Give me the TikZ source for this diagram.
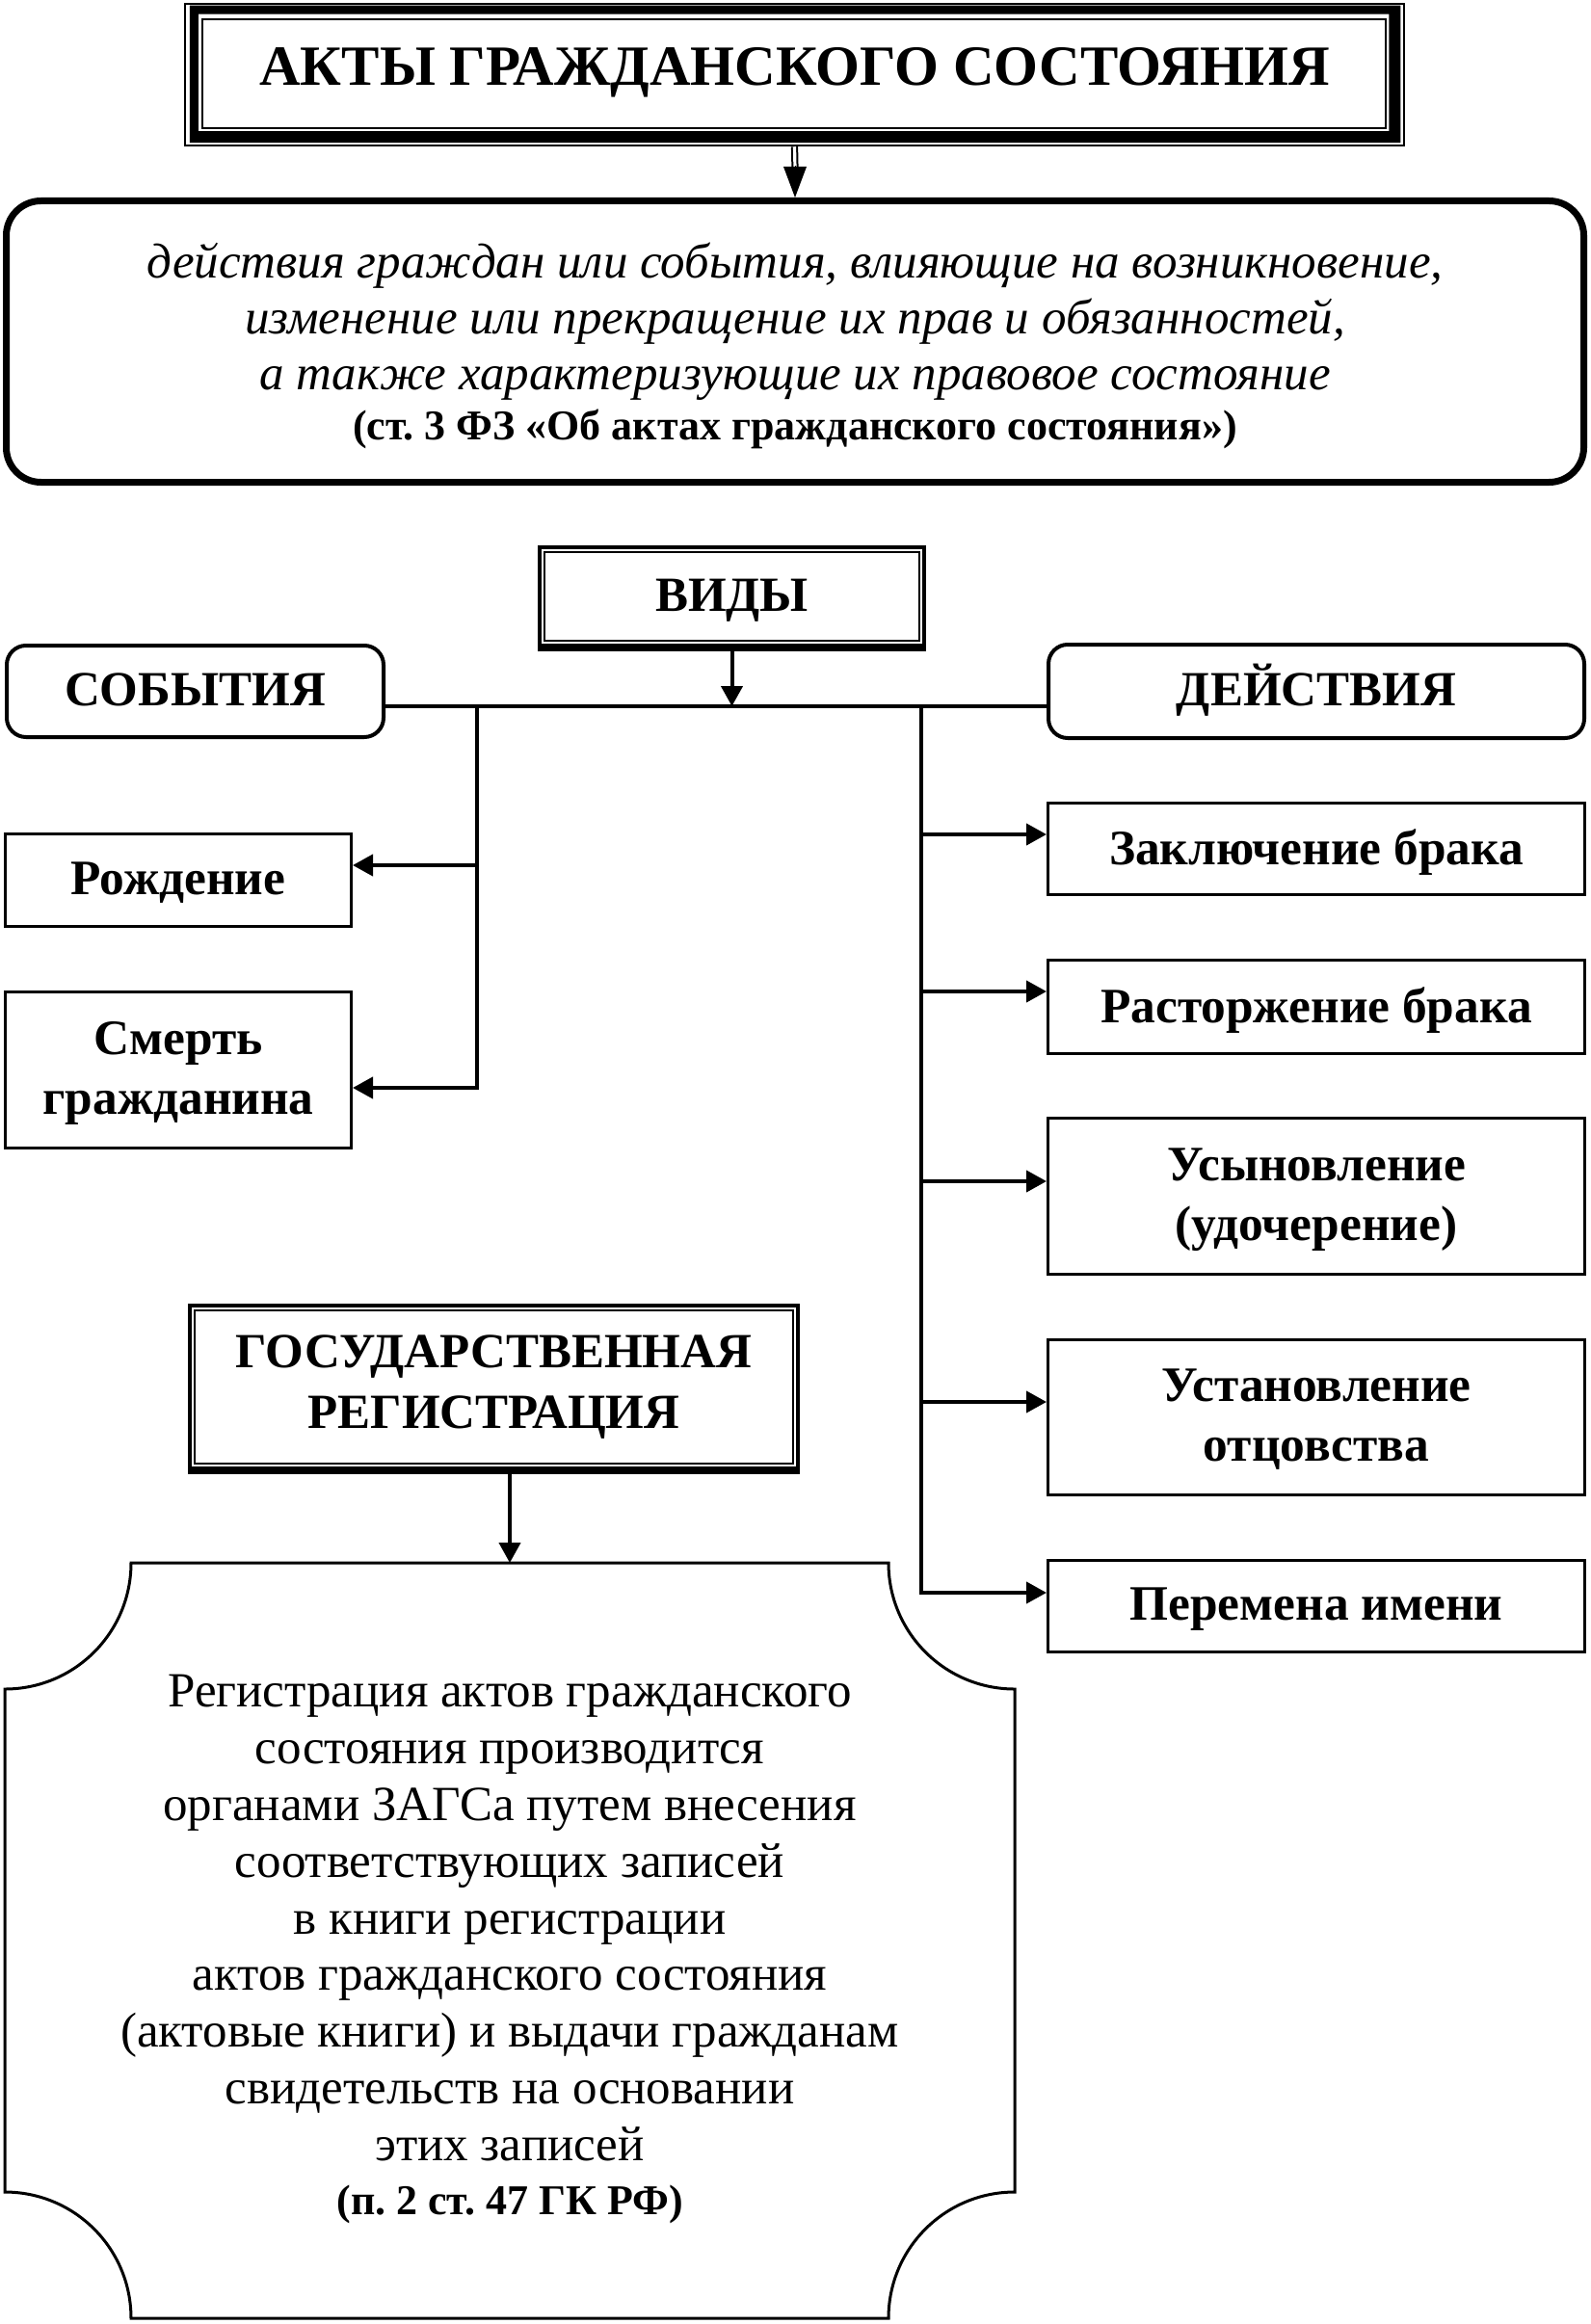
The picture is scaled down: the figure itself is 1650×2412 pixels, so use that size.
\documentclass[tikz,border=0pt]{standalone}
\usepackage{fontspec}
\setmainfont{Liberation Serif}
\usetikzlibrary{arrows.meta}
\begin{document}
\begin{tikzpicture}[x=0.5pt,y=-0.5pt,
  conn/.style={line width=2pt},
  arr/.style={line width=2pt,-{Triangle[length=10.5pt,width=11pt]}},
  headfont/.style={font=\bfseries\fontsize{25.5}{31.5}\selectfont},
  headbox/.style={draw, line width=2pt, inner sep=0pt, align=center, headfont, text height=17pt, text depth=2pt},
  itembox/.style={draw, line width=1.5pt, inner sep=0pt, align=center, text depth=2pt,
    font=\bfseries\fontsize{25.7}{31}\selectfont},
  innerframe/.style={line width=1pt},
]
\useasboundingbox (0,0) rectangle (1650,2412);

% title with triple frame
\node[draw, line width=1.25pt, minimum width=632.5pt, minimum height=73.5pt, inner sep=0pt,
  font=\bfseries\fontsize{29.5}{34}\selectfont, text height=19.5pt, text depth=8.5pt]
  (title) at (824.5,77.5) {АКТЫ ГРАЖДАНСКОГО СОСТОЯНИЯ};
\fill[even odd rule]
  ([shift={(3pt,-1.5pt)}]title.north west) rectangle ([shift={(-2.5pt,2pt)}]title.south east)
  ([shift={(7.5pt,-6pt)}]title.north west) rectangle ([shift={(-8.5pt,8pt)}]title.south east);
\draw[line width=1.1pt] ([shift={(9.5pt,-8.5pt)}]title.north west) rectangle ([shift={(-10pt,9.5pt)}]title.south east);

% definition box
\node[draw, line width=3.5pt, rounded corners=18pt, minimum width=818.5pt, minimum height=146pt,
  inner sep=0pt, align=center, text depth=0pt, font=\fontsize{25.5}{29}\selectfont]
  (defbox) at (825,354.5)
  {\textit{действия граждан или события, влияющие на возникновение,}\\
   \textit{изменение или прекращение их прав и обязанностей,}\\
   \textit{а также характеризующие их правовое состояние}\\[-3pt]
   {\bfseries\fontsize{22}{29}\selectfont (ст.~3 ФЗ «Об актах гражданского состояния»)}};

% double arrow title -> defbox
\draw[line width=1pt, double, double distance=1.6pt] (title.south) -- ([yshift=15pt]defbox.north);
\draw[line width=0pt, -{Triangle[length=16pt,width=12pt]}] ([yshift=16pt]defbox.north) -- (defbox.north);

% ВИДЫ
\node[headbox, minimum width=199.5pt, minimum height=51pt] (vidy) at (759.5,619) {ВИДЫ};
\draw[line width=3pt] ([yshift=-0.5pt]vidy.south west) -- ([yshift=-0.5pt]vidy.south east);
\draw[innerframe] ([shift={(3.5pt,-3.5pt)}]vidy.north west) rectangle ([shift={(-3.5pt,3.5pt)}]vidy.south east);

% СОБЫТИЯ / ДЕЙСТВИЯ
\node[headbox, rounded corners=10pt, minimum width=195.5pt, minimum height=47.5pt] (sob) at (202.5,717.5) {СОБЫТИЯ};
\node[headbox, rounded corners=10pt, minimum width=278pt, minimum height=48.5pt] (dei) at (1366,717.5) {ДЕЙСТВИЯ};

% events
\node[itembox, minimum width=179.5pt, minimum height=48pt] (roz) at (185,913.5) {Рождение};
\node[itembox, minimum width=179.5pt, minimum height=81pt] (sme) at (185,1110.5) {Смерть\\гражданина};

% actions
\node[itembox, minimum width=278.5pt, minimum height=47.5pt] (zak) at (1366,881) {Заключение брака};
\node[itembox, minimum width=278.5pt, minimum height=48.5pt] (ras) at (1366,1045) {Расторжение брака};
\node[itembox, minimum width=278.5pt, minimum height=81pt] (usy) at (1366,1241.5) {Усыновление\\(удочерение)};
\node[itembox, minimum width=278.5pt, minimum height=80.5pt] (ust) at (1366,1471) {Установление\\отцовства};
\node[itembox, minimum width=278.5pt, minimum height=47.5pt] (per) at (1366,1667) {Перемена имени};

% connectors
\coordinate (lv) at (495,733);
\coordinate (rv) at (956,733);
\draw[conn] (sob.east |- lv) -- (dei.west |- lv);
\draw[arr] (vidy.south) -- (vidy.south |- lv);
\draw[arr] (lv) |- ([yshift=7.75pt]roz.east);
\draw[arr] (lv) |- ([yshift=-9.25pt]sme.east);
\draw[arr] (rv) |- ([yshift=7.5pt]zak.west);
\draw[arr] (rv) |- ([yshift=8pt]ras.west);
\draw[arr] (rv) |- ([yshift=7.75pt]usy.west);
\draw[arr] (rv) |- ([yshift=8pt]ust.west);
\draw[arr] (rv) |- ([yshift=7pt]per.west);

% ГОСУДАРСТВЕННАЯ РЕГИСТРАЦИЯ
\node[headbox, text height=, text depth=, minimum width=315.5pt, minimum height=84.5pt] (gos) at (512.5,1439.5) {ГОСУДАРСТВЕННАЯ\\РЕГИСТРАЦИЯ};
\draw[line width=3pt] ([yshift=-0.5pt]gos.south west) -- ([yshift=-0.5pt]gos.south east);
\draw[innerframe] ([shift={(3.5pt,-3.5pt)}]gos.north west) rectangle ([shift={(-3.5pt,3.5pt)}]gos.south east);

% registration shape
\draw[line width=1.5pt] (136,1622) -- (922,1622)
  .. controls (922,1694.4) and (980.6,1753) .. (1053,1753) -- (1053,2275)
  .. controls (980.6,2275) and (922,2333.6) .. (922,2406) -- (136,2406)
  .. controls (136,2333.6) and (77.4,2275) .. (5,2275) -- (5,1753)
  .. controls (77.4,1753) and (136,1694.4) .. (136,1622) -- cycle;
\coordinate (regtop) at (529,1622);
\draw[arr] (gos.south -| regtop) -- (regtop);
\node[align=center, inner sep=0pt, font=\fontsize{25.5}{29.4}\selectfont] (reg) at (529,2023)
  {Регистрация актов гражданского\\
   состояния производится\\
   органами ЗАГСа путем внесения\\
   соответствующих записей\\
   в книги регистрации\\
   актов гражданского состояния\\
   (актовые книги) и выдачи гражданам\\
   свидетельств на основании\\
   этих записей\\[-1.5pt]
   {\bfseries\fontsize{22}{29.4}\selectfont (п.~2 ст.~47 ГК РФ)}};
\end{tikzpicture}
\end{document}
